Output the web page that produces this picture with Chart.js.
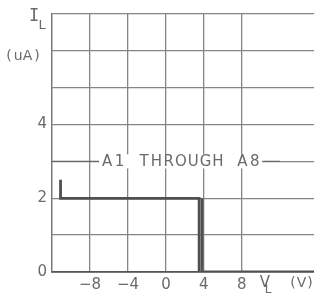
<!DOCTYPE html>
<html>
<head>
<meta charset="utf-8">
<script src="https://cdn.jsdelivr.net/npm/chart.js@4.4.1/dist/chart.umd.min.js"></script>
<style>
  html, body { margin: 0; padding: 0; background: #fff; overflow: hidden; }
  #wrap { width: 314px; height: 295px; }
</style>
</head>
<body>
<div id="wrap"><canvas id="c" width="314" height="295"></canvas></div>
<script>
// ---- data ----
const xTickLabels = [-8, -4, 0, 4, 8];
const yTickLabels = [0, 2, 4];
const xRange = [-12, 15.6];
const yRange = [0, 7];
// trace 1: small rise at start, flat at 2 uA, drop to 0 near 3.5 V
const trace1V = [-11.1, -11.1, 3.5, 3.5];
const trace1I = [2.5, 2.0, 2.0, 0];
// trace 2: second drop line and flat at 0
const trace2V = [3.8, 3.8, 15.6];
const trace2I = [2.0, 0, 0];
const seriesLabel = 'A1 THROUGH A8';

const toPts = (xs, ys) => xs.map((x, i) => ({ x: x, y: ys[i] }));

const GRID = '#858585';
const INK = '#505050';
const TXT = '#6a6a6a';
const FONT = '"DejaVu Sans", sans-serif';
const MONO = '"DejaVu Sans Mono", monospace';

const textPlugin = {
  id: 'texts',
  afterDatasetsDraw(chart) {
    const ctx = chart.ctx;
    const xs = chart.scales.x, ys = chart.scales.y;
    ctx.save();
    ctx.fillStyle = TXT;
    ctx.textBaseline = 'middle';
    ctx.textAlign = 'center';
    // axis title I_L
    ctx.font = '17px ' + MONO;
    ctx.fillText('I', 34, 17);
    ctx.font = '13px ' + FONT;
    ctx.fillText('L', 42, 26);
    ctx.font = '14px ' + FONT;
    const ua = '(uA)';
    for (let i = 0; i < ua.length; i++) ctx.fillText(ua[i], 9 + i * 9.3, 56);
    // x axis title V_L (V)
    ctx.font = '15px ' + FONT;
    ctx.fillText('V', 265, 283);
    ctx.font = '12px ' + FONT;
    ctx.fillText('L', 268, 290);
    ctx.font = '14px ' + FONT;
    const vv = '(V)';
    for (let i = 0; i < vv.length; i++) ctx.fillText(vv[i], 293 + i * 8.5, 283);
    // series label on the 3 uA line
    const yLab = ys.getPixelForValue(3);
    const x0 = 101, step = 12.3;
    ctx.fillStyle = '#fff';
    ctx.fillRect(x0 - 2, yLab - 7, seriesLabel.length * step + 3, 14);
    ctx.fillStyle = TXT;
    ctx.font = '15px ' + FONT;
    for (let i = 0; i < seriesLabel.length; i++) {
      ctx.fillText(seriesLabel[i], x0 + step * (i + 0.5), yLab + 0.5);
    }
    // darker leader lines near label
    ctx.strokeStyle = '#666';
    ctx.lineWidth = 1.3;
    ctx.beginPath();
    ctx.moveTo(xs.left, yLab); ctx.lineTo(x0 - 2, yLab);
    ctx.moveTo(x0 + seriesLabel.length * step + 2, yLab); ctx.lineTo(xs.getPixelForValue(12), yLab);
    ctx.stroke();
    ctx.restore();
  }
};

new Chart(document.getElementById('c'), {
  type: 'scatter',
  data: {
    datasets: [
      { data: toPts(trace1V, trace1I), showLine: true, borderColor: INK, borderWidth: 2.8,
        pointRadius: 0, fill: false, tension: 0 },
      { data: toPts(trace2V, trace2I), showLine: true, borderColor: INK, borderWidth: 2.8,
        pointRadius: 0, fill: false, tension: 0 }
    ]
  },
  options: {
    responsive: false,
    animation: false,
    devicePixelRatio: 1,
    layout: { padding: { top: 5, right: 0, left: 0, bottom: 0 } },
    plugins: { legend: { display: false }, tooltip: { enabled: false } },
    scales: {
      x: {
        type: 'linear', min: xRange[0], max: xRange[1],
        afterBuildTicks: s => { s.ticks = s.ticks.filter(t => Math.abs(t.value % 4) < 1e-9); },
        afterFit: s => { s.height = 23; },
        ticks: { stepSize: 4, padding: 4, color: TXT, font: { family: FONT, size: 15 },
          maxRotation: 0, autoSkip: false,
          callback: v => xTickLabels.includes(v) ? (v < 0 ? '\u2212' + Math.abs(v) : String(v)) : '' },
        grid: { color: GRID, lineWidth: 1.3, drawTicks: false },
        border: { color: '#555', width: 1.8 }
      },
      y: {
        type: 'linear', min: yRange[0], max: yRange[1],
        afterFit: s => { s.width = 52; },
        ticks: { stepSize: 1, padding: 5, color: TXT, font: { family: FONT, size: 15 },
          autoSkip: false,
          callback: v => yTickLabels.includes(v) ? String(v) : '' },
        grid: { color: GRID, lineWidth: 1.3, drawTicks: false },
        border: { color: '#777', width: 1.3 }
      }
    }
  },
  plugins: [textPlugin]
});
</script>
</body>
</html>
